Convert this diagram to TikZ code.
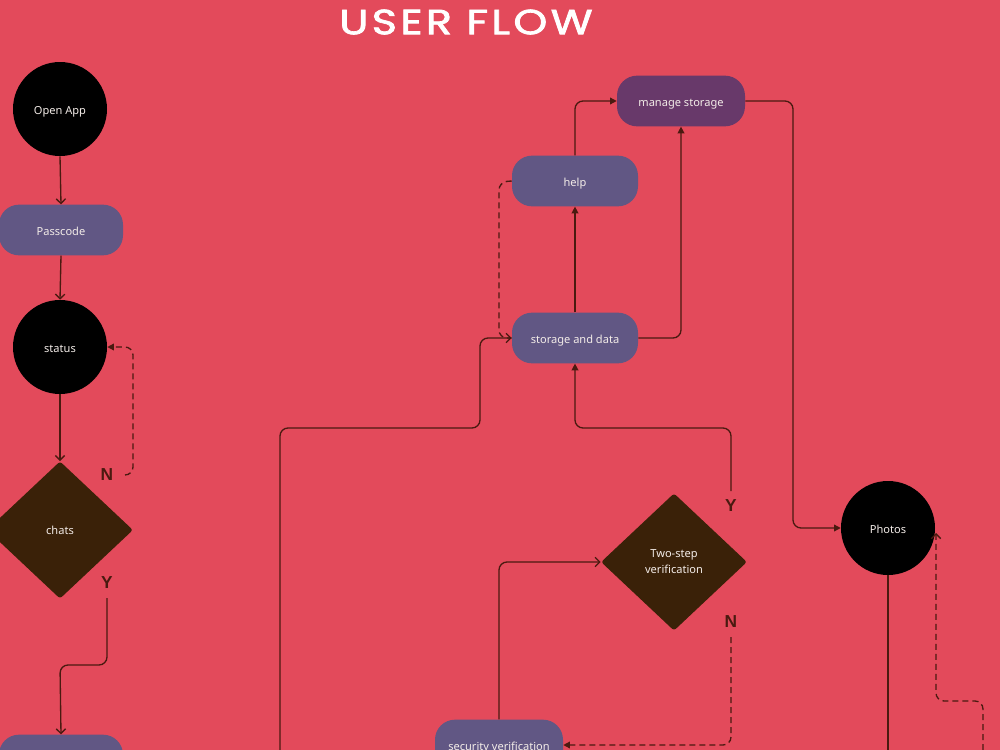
\documentclass[tikz,border=0pt]{standalone}
\usepackage{fontspec}
\setmainfont{Noto Sans}
\newfontfamily\titlefont{Poppins}[LetterSpace=8,FakeBold=2]
\newfontfamily\lblfont{Liberation Sans}
\usetikzlibrary{arrows.meta,shapes.geometric}
\definecolor{bg}{HTML}{E34A5B}
\definecolor{boxc}{HTML}{615784}
\definecolor{mgc}{HTML}{68396A}
\definecolor{dia}{HTML}{3A2108}
\definecolor{ln}{HTML}{4A1A10}
\definecolor{txt}{HTML}{F3ECE8}
\tikzset{
  nodefont/.style={text=txt, font=\fontsize{8.3pt}{11pt}\selectfont, text height=8.5pt, text depth=1pt},
  circ/.style={circle, fill=black, minimum size=70.5pt, inner sep=0pt, nodefont},
  rbox/.style={rectangle, rounded corners=15pt, fill=boxc, minimum width=94.5pt, minimum height=38pt, inner sep=0pt, nodefont},
  dbox/.style={diamond, fill=dia, minimum width=109.5pt, minimum height=103pt, inner sep=0pt, rounded corners=2pt, text=txt, align=center, font=\fontsize{8.3pt}{12pt}\selectfont},
  conn/.style={draw=ln, line width=1pt, rounded corners=6pt},
  dconn/.style={conn, dash pattern=on 4.5pt off 3pt},
  fill tip/.style={-{Triangle[length=5pt,width=5pt]}},
  open tip/.style={-{Straight Barb[length=3.5pt,width=7pt]}},
  lbl/.style={text=ln, font=\lblfont\fontsize{13pt}{15pt}\selectfont\bfseries, inner sep=0pt},
}
\begin{document}
\begin{tikzpicture}[x=0.75pt,y=-0.75pt]
\useasboundingbox (0,0) rectangle (1000,750);
\clip (0,0) rectangle (1000,750);
\fill[bg] (0,0) rectangle (1000,750);

\node[text=white, inner sep=0pt] (title) at (466,22) {\resizebox{190pt}{18.5pt}{\titlefont USER\,\,FLOW}};

% left column
\node[circ] (open) at (60,109) {Open App};
\node[rbox, minimum width=93pt] (pass) at (61,230) {Passcode};
\node[circ] (status) at (60,347) {status};
\node[dbox] (chats) at (60,530) {chats};
\node[rbox, minimum width=93pt] (next) at (61,760) {};
\node[lbl] (n1) at (107,475) {N};
\node[lbl] (y1) at (107,583) {Y};

% middle
\node[rbox, fill=mgc, minimum width=96pt] (manage) at (681,101) {manage storage};
\node[rbox] (help) at (575,181) {help};
\node[rbox] (storage) at (575,338) {storage and data};
\node[dbox] (two) at (674,562) {Two-step\\verification};
\node[rbox, minimum width=96pt] (sec) at (499,745) {security verification};
\node[lbl] (y2) at (731,506) {Y};
\node[lbl] (n2) at (731,622) {N};

% right
\node[circ] (photos) at (888,528) {Photos};

% coordinates for free ends
\coordinate (n1s) at (125,475);
\coordinate (y1s) at (107,598);
\coordinate (lfs) at (280,760);
\coordinate (y2s) at (731,491);
\coordinate (n2s) at (731,637);
\coordinate (phb) at (888,760);
\coordinate (rds) at (983,760);
\coordinate (phr) at (936,533);

% left connectors
\draw[conn, open tip] (open.south) -- (pass.north);
\draw[conn, open tip] (pass.south) -- (status.north);
\draw[conn, open tip] (status.south) -- (chats.north);
\draw[dconn, fill tip] (n1s) -- (133,475) -- (133,347) -- (status.east);
\draw[conn, open tip] (y1s) -- (107,665) -- (60,665) -- (next.north);

% middle connectors
\draw[conn, open tip] (lfs) -- (280,428) -- (480,428) -- (480,338) -- (storage.west);
\draw[dconn] (help.west) -- (499,182) -- (499,338) -- (storage.west);
\draw[conn, fill tip] (storage.north) -- (help.south);
\draw[conn, fill tip] (help.north) |- (manage.west);
\draw[conn, fill tip] (storage.east) -| (manage.south);
\draw[conn, fill tip] (manage.east) -- (793,101) -- (793,528) -- (photos.west);
\draw[conn, fill tip] (y2s) -- (731,428) -- (575,428) -- (storage.south);
\draw[dconn, fill tip] (n2s) -- (731,745) -- (sec.east);
\draw[conn, open tip] (sec.north) |- (two.west);

% right connectors
\draw[conn] (photos.south) -- (phb);
\draw[dconn, open tip] (rds) -- (983,701) -- (936,701) -- (phr);
\end{tikzpicture}
\end{document}
